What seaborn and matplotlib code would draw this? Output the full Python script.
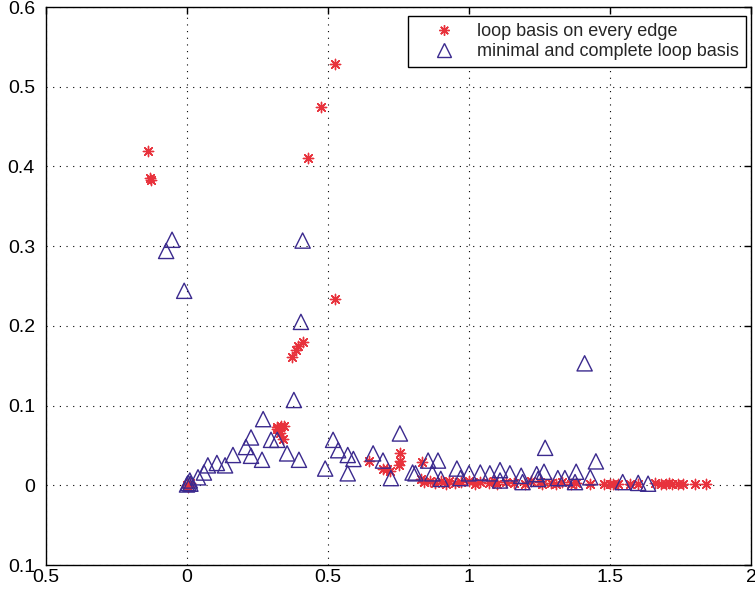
import numpy as np
import pandas as pd
import matplotlib
matplotlib.use("Agg")
import matplotlib.pyplot as plt
from matplotlib.lines import Line2D
from matplotlib.ticker import FixedLocator, FixedFormatter
import seaborn as sns

# ---- data ----
edge_x = [-0.138, -0.130, -0.127, 0.525, 0.475, 0.430, 0.525,
          0.372, 0.385, 0.392, 0.410,
          0.320, 0.335, 0.345, 0.330, 0.340, 0.318,
          0.000, 0.005, 0.010,
          0.645, 0.695, 0.710, 0.720, 0.755, 0.755, 0.750, 0.833,
          0.830, 0.840, 0.860, 0.880, 0.900, 0.920, 0.930, 0.950, 0.970, 1.000,
          1.020, 1.040, 1.070, 1.090, 1.100, 1.130, 1.160, 1.200, 1.220, 1.250,
          1.260, 1.290, 1.310, 1.330, 1.360, 1.380, 1.430, 1.480, 1.500, 1.510,
          1.530, 1.570, 1.600, 1.660, 1.680, 1.700, 1.710, 1.720, 1.740, 1.760,
          1.800, 1.840]
edge_y = [0.419, 0.386, 0.383, 0.529, 0.475, 0.410, 0.234,
          0.161, 0.170, 0.175, 0.180,
          0.073, 0.075, 0.075, 0.065, 0.058, 0.070,
          0.000, -0.002, 0.003,
          0.030, 0.021, 0.020, 0.018, 0.040, 0.031, 0.025, 0.029,
          0.008, 0.004, 0.006, 0.003, 0.005, 0.002, 0.006, 0.003, 0.004, 0.005,
          0.002, 0.004, 0.003, 0.006, 0.002, 0.004, 0.003, 0.002, 0.005, 0.004,
          0.001, 0.003, 0.002, 0.004, 0.002, 0.003, 0.002, 0.001, 0.002, 0.001,
          0.002, 0.001, 0.002, 0.003, 0.002, 0.001, 0.003, 0.002, 0.001, 0.002,
          0.002, 0.002]

min_x = [-0.074, -0.053, -0.010, 0.410, 0.404, 0.379, 0.270, 0.227, 0.298, 0.320,
         0.209, 0.355, 0.227, 0.266, 0.397, 0.163, 0.106, 0.135, 0.074, 0.060,
         0.039, 0.010, 0.004, 0.000, 0.012, 0.490, 0.518, 0.536, 0.570, 0.590,
         0.570, 0.660, 0.695, 0.723, 0.755, 0.810, 0.800, 0.855, 0.890, 0.870,
         0.900, 0.957, 0.970, 1.000, 1.040, 1.074, 1.110, 1.110, 1.145, 1.185,
         1.190, 1.240, 1.245, 1.266, 1.270, 1.315, 1.340, 1.376, 1.380, 1.410,
         1.450, 1.430, 1.545, 1.600, 1.635]
min_y = [0.294, 0.308, 0.244, 0.307, 0.205, 0.107, 0.083, 0.060, 0.057, 0.057,
         0.048, 0.040, 0.037, 0.032, 0.032, 0.038, 0.028, 0.025, 0.025, 0.016,
         0.010, 0.006, 0.003, 0.001, 0.002, 0.021, 0.057, 0.044, 0.038, 0.033,
         0.015, 0.040, 0.031, 0.009, 0.065, 0.015, 0.016, 0.031, 0.031, 0.015,
         0.008, 0.021, 0.009, 0.015, 0.016, 0.015, 0.019, 0.006, 0.015, 0.012,
         0.004, 0.014, 0.008, 0.017, 0.047, 0.009, 0.009, 0.004, 0.017, 0.153,
         0.030, 0.010, 0.004, 0.003, 0.002]

labels = ["loop basis on every edge", "minimal and complete loop basis"]
xticks = [-0.5, 0, 0.5, 1, 1.5, 2]
xtick_labels = ["0.5", "0", "0.5", "1", "1.5", "2"]
yticks = [-0.1, 0, 0.1, 0.2, 0.3, 0.4, 0.5, 0.6]
ytick_labels = ["0.1", "0", "0.1", "0.2", "0.3", "0.4", "0.5", "0.6"]

red = "#e8323c"
blue = "#3b2a8e"

sns.set_style("white")
plt.rcParams["font.family"] = ["Liberation Sans", "DejaVu Sans"]

fig = plt.figure(figsize=(7.55, 5.92), dpi=100)
ax = fig.add_axes([46 / 755, 27 / 592, 705 / 755, 558 / 592])

df_edge = pd.DataFrame({"x": edge_x, "y": edge_y})
df_min = pd.DataFrame({"x": min_x, "y": min_y})

star = (8, 2, 0)
sns.scatterplot(data=df_edge, x="x", y="y", ax=ax, marker=star, s=55,
                color=red, linewidth=1.0, legend=False, zorder=3)
sns.scatterplot(data=df_min, x="x", y="y", ax=ax, marker="^", s=120,
                facecolors="none", edgecolor=blue, linewidth=1.0,
                legend=False, zorder=3)

ax.set_xlim(-0.5, 2)
ax.set_ylim(-0.1, 0.6)
ax.xaxis.set_major_locator(FixedLocator(xticks))
ax.xaxis.set_major_formatter(FixedFormatter(xtick_labels))
ax.yaxis.set_major_locator(FixedLocator(yticks))
ax.yaxis.set_major_formatter(FixedFormatter(ytick_labels))
ax.set_xlabel("")
ax.set_ylabel("")

ax.grid(True, linestyle=(0, (1, 5)), color="black", linewidth=0.8)
ax.tick_params(direction="in", length=5, width=1.0, top=True, right=True,
               labelsize=14, colors="black")
ax.tick_params(axis="y", pad=8)
ax.tick_params(axis="x", pad=3)
for sp in ax.spines.values():
    sp.set_visible(True)
    sp.set_color("black")
    sp.set_linewidth(1.0)

handles = [
    Line2D([], [], marker=star, linestyle="none", color=red, markersize=7.5,
           markeredgewidth=1.0),
    Line2D([], [], marker="^", linestyle="none", markerfacecolor="none",
           markeredgecolor=blue, markersize=10.5, markeredgewidth=1.0),
]
leg = ax.legend(handles, labels, loc="upper right",
                bbox_to_anchor=((746 - 46) / 705, (565 - 16) / 558),
                borderaxespad=0.0, fontsize=13,
                frameon=True, fancybox=False, edgecolor="black",
                framealpha=1, borderpad=0.4, handletextpad=0.3,
                labelspacing=0.15, handlelength=3.1)
leg.get_frame().set_linewidth(1.0)

fig.savefig("out.png", dpi=100)
